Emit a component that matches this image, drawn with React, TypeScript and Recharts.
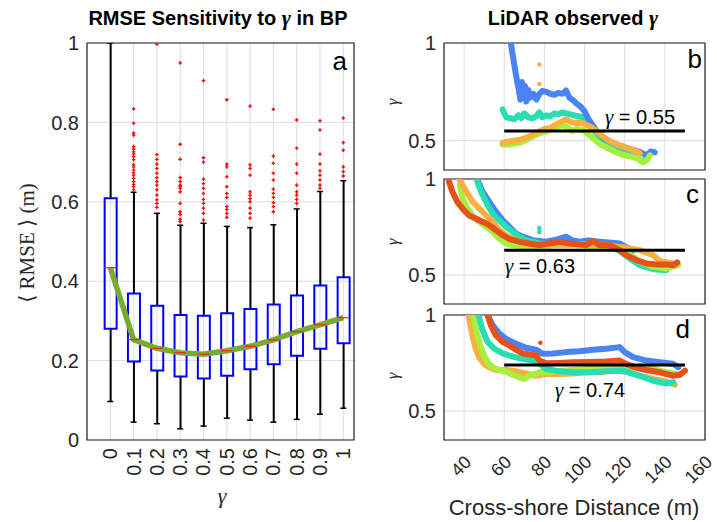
import React from 'react'
import {
  ComposedChart,
  Bar,
  Line,
  Scatter,
  XAxis,
  YAxis,
  CartesianGrid,
  ReferenceArea,
} from 'recharts'

const FONT = '"Liberation Sans", Arial, Helvetica, sans-serif'
const SERIF = '"Liberation Serif", "DejaVu Serif", "Times New Roman", serif'
const INK = '#262626'
const GRID = '#dedede'

// ---- panel a: RMSE boxplots per gamma ----
const gammas = [0, 0.1, 0.2, 0.3, 0.4, 0.5, 0.6, 0.7, 0.8, 0.9, 1]
const whiskerLow = [0.097, 0.045, 0.041, 0.028, 0.035, 0.055, 0.05, 0.045, 0.052, 0.065, 0.08]
const q1 = [0.28, 0.198, 0.175, 0.16, 0.155, 0.162, 0.178, 0.191, 0.212, 0.23, 0.244]
const medians = [0.434, 0.253, 0.231, 0.22, 0.216, 0.225, 0.236, 0.252, 0.273, 0.29, 0.308]
const q3 = [0.609, 0.369, 0.338, 0.315, 0.313, 0.319, 0.33, 0.341, 0.364, 0.389, 0.41]
const whiskerHigh = [1.0, 0.624, 0.571, 0.541, 0.546, 0.538, 0.535, 0.542, 0.582, 0.626, 0.653]
const outliers = [
  [],
  [0.834, 0.798, 0.773, 0.768, 0.739, 0.733, 0.726, 0.72, 0.714, 0.706, 0.693, 0.688, 0.68, 0.673, 0.667, 0.659, 0.651, 0.644, 0.638, 0.63],
  [0.997, 0.719, 0.707, 0.695, 0.684, 0.672, 0.661, 0.651, 0.642, 0.63, 0.617, 0.605, 0.596, 0.586],
  [0.95, 0.745, 0.707, 0.661, 0.651, 0.642, 0.638, 0.634, 0.625, 0.596, 0.575, 0.568, 0.556, 0.55],
  [0.905, 0.711, 0.7, 0.657, 0.646, 0.634, 0.621, 0.606, 0.596, 0.584, 0.571, 0.554],
  [0.857, 0.695, 0.688, 0.663, 0.638, 0.621, 0.611, 0.588, 0.581, 0.571, 0.561],
  [0.841, 0.693, 0.684, 0.667, 0.625, 0.617, 0.608, 0.6, 0.584, 0.571, 0.559],
  [0.833, 0.715, 0.697, 0.672, 0.655, 0.632, 0.621, 0.611, 0.598, 0.588, 0.575],
  [0.806, 0.735, 0.695, 0.672, 0.642, 0.625, 0.617, 0.606, 0.596],
  [0.804, 0.781, 0.72, 0.695, 0.678, 0.667, 0.655, 0.642, 0.634],
  [0.811, 0.749, 0.73, 0.688, 0.676, 0.665],
]
const rmseTicks = [0, 0.2, 0.4, 0.6, 0.8, 1]

// ---- panels b-d: LiDAR gamma vs cross-shore distance ----
const distTicks = [40, 60, 80, 100, 120, 140, 160]
const gammaTicks = [0.5, 1]
const fitStart = 60
const fitEnd = 150
const fitGamma = [0.55, 0.63, 0.74]

const BLUE = '#4a84f4'
const TEAL = '#26deb2'
const GREEN = '#a4f03c'
const ORANGE = '#fab03e'
const RED = '#e6501a'

const bBlue = [[63.3, 1.0], [64.2, 0.94], [65, 0.89], [65.8, 0.84], [66.5, 0.8], [67.3, 0.76], [68, 0.71], [68.8, 0.8], [69.5, 0.72], [70.3, 0.78], [71, 0.7], [72, 0.76], [73, 0.72], [74.5, 0.74], [76, 0.71], [77.5, 0.74], [79, 0.755], [81, 0.75], [83, 0.74], [85, 0.735], [87, 0.745], [89, 0.74], [90.8, 0.757], [92.5, 0.72], [94, 0.71], [96, 0.69], [98, 0.675], [100, 0.65], [102, 0.61], [104, 0.58], [106, 0.55], [108, 0.53], [110, 0.51], [113, 0.495], [116, 0.48], [119, 0.47], [122, 0.46], [125, 0.45], [128, 0.44], [131, 0.425], [133, 0.445], [135, 0.44]]
const bTeal = [[59.2, 0.66], [60, 0.64], [61, 0.62], [63, 0.615], [65, 0.61], [67, 0.63], [68.5, 0.615], [70, 0.64], [72, 0.62], [74, 0.615], [76, 0.625], [77.5, 0.645], [79, 0.62], [81, 0.63], [83, 0.625], [85, 0.64], [87, 0.635], [89, 0.645], [91, 0.64], [93, 0.635], [95, 0.63], [97, 0.625], [99, 0.62], [101, 0.6], [103, 0.575], [105, 0.55], [107, 0.525], [110, 0.5], [113, 0.475], [116, 0.455], [119, 0.44], [122, 0.43], [125, 0.42], [128, 0.4], [130, 0.395], [132, 0.43]]
const bGreen = [[59.2, 0.48], [62, 0.48], [65, 0.485], [68, 0.49], [71, 0.505], [74, 0.52], [77, 0.535], [80, 0.545], [83, 0.555], [86, 0.565], [88.5, 0.58], [91, 0.57], [94, 0.55], [96, 0.56], [99, 0.555], [101, 0.54], [103, 0.525], [105, 0.505], [108, 0.48], [111, 0.465], [114, 0.45], [117, 0.435], [120, 0.425], [123, 0.42], [126, 0.41], [129, 0.39], [131, 0.4], [132.5, 0.425]]
const bOrange = [[59.2, 0.49], [62, 0.495], [65, 0.5], [68, 0.505], [71, 0.515], [74, 0.53], [77, 0.545], [80, 0.56], [83, 0.565], [86, 0.585], [89, 0.6], [91, 0.61], [93, 0.595], [96, 0.59], [99, 0.59], [101, 0.58], [104, 0.565], [107, 0.54], [110, 0.515], [113, 0.495], [116, 0.48], [119, 0.47], [122, 0.46], [125, 0.45], [127.5, 0.435]]
const bStrays = [[77.5, 0.89], [77.5, 0.79]]

const cBlue = [[46.7, 0.995], [49.2, 0.934], [52.5, 0.882], [55.8, 0.83], [59.2, 0.786], [62.5, 0.752], [65.8, 0.717], [69.2, 0.7], [74.2, 0.682], [80.8, 0.674], [86, 0.685], [90.8, 0.7], [94, 0.68], [97.5, 0.674], [102, 0.68], [107.5, 0.674], [112, 0.67], [117.5, 0.665], [121, 0.645], [124.2, 0.63]]
const cTeal = [[46.2, 1.0], [47.5, 0.96], [49.2, 0.917], [51.7, 0.865], [54.2, 0.82], [57.5, 0.786], [60.8, 0.752], [64.2, 0.726], [67.5, 0.7], [70.8, 0.682], [74.2, 0.674], [77.5, 0.665], [85, 0.66], [95, 0.66], [105, 0.655], [112, 0.65], [117.5, 0.625], [122.5, 0.587], [127.5, 0.552], [134.2, 0.531], [140.8, 0.526]]
const cGreen = [[37.8, 0.969], [39.2, 0.9], [41.7, 0.847], [44.2, 0.81], [47.5, 0.778], [50.8, 0.752], [54.2, 0.726], [57.5, 0.69], [60.8, 0.665], [65.8, 0.653], [70.8, 0.648], [77.5, 0.648], [85, 0.655], [95, 0.655], [105, 0.65], [115, 0.645], [120.8, 0.62], [127.5, 0.57], [134.2, 0.543], [140.8, 0.535], [146.7, 0.552]]
const cOrange = [[37.5, 1.0], [39.2, 0.969], [41.7, 0.925], [44.2, 0.882], [47.5, 0.847], [50.8, 0.812], [54.2, 0.778], [57.5, 0.734], [60.8, 0.708], [65.8, 0.682], [70.8, 0.665], [77.5, 0.656], [88, 0.662], [100, 0.66], [110, 0.655], [120.8, 0.642], [127.5, 0.63], [134.2, 0.604], [137.5, 0.573], [144.2, 0.561]]
const cRed = [[32.5, 0.986], [34.2, 0.934], [36.7, 0.88], [39.2, 0.847], [42.5, 0.81], [45.8, 0.795], [49.2, 0.778], [52.5, 0.76], [55.8, 0.734], [59.2, 0.708], [62.5, 0.688], [67.5, 0.674], [72.5, 0.665], [77.5, 0.656], [82.5, 0.665], [87.5, 0.674], [92.5, 0.665], [97.5, 0.66], [100.8, 0.656], [104.2, 0.677], [107.5, 0.656], [112.5, 0.656], [117.5, 0.63], [120.8, 0.604], [125.8, 0.578], [130.8, 0.561], [135.8, 0.556], [140.8, 0.556], [144.2, 0.552], [146.2, 0.566]]
const cStrays = [[77.5, 0.745], [77.5, 0.725]]

const dBlue = [[51.7, 1.0], [54.2, 0.947], [57.5, 0.904], [60.8, 0.877], [65.8, 0.851], [70.8, 0.83], [75.8, 0.82], [79.2, 0.798], [84.2, 0.8], [90.8, 0.807], [97.5, 0.812], [104.2, 0.819], [110.8, 0.825], [117.5, 0.833], [120, 0.807], [124.2, 0.781], [130.8, 0.763], [137.5, 0.754], [144.2, 0.746], [146.7, 0.728]]
const dTeal = [[47.2, 1.0], [49.2, 0.921], [51.7, 0.86], [55, 0.825], [59.2, 0.8], [64.2, 0.784], [69.2, 0.772], [74.2, 0.763], [77.5, 0.749], [80.8, 0.719], [87.5, 0.707], [94.2, 0.702], [102.5, 0.702], [110.8, 0.707], [119.2, 0.711], [127.5, 0.684], [134.2, 0.658], [140.8, 0.644], [144.2, 0.65]]
const dGreen = [[44.5, 1.0], [45.8, 0.93], [47.5, 0.86], [49.5, 0.8], [51.7, 0.754], [54.2, 0.728], [57.5, 0.714], [60.8, 0.707], [64.2, 0.689], [67.5, 0.675], [70, 0.667], [72.5, 0.684], [77.5, 0.702], [85.8, 0.707], [94.2, 0.714], [102.5, 0.72], [110.8, 0.72], [119.2, 0.725], [127.5, 0.732], [134.2, 0.72], [140.8, 0.702], [145.8, 0.693]]
const dOrange = [[42.2, 1.0], [43.3, 0.939], [44.5, 0.877], [45.8, 0.825], [47.5, 0.78], [50, 0.746], [52.5, 0.728], [55.8, 0.714], [60.8, 0.714], [65.8, 0.707], [70.8, 0.696], [75.8, 0.684], [80.8, 0.693], [87.5, 0.693], [94.2, 0.696], [100.8, 0.702], [107.5, 0.702], [114.2, 0.711], [120.8, 0.705], [127.5, 0.684], [134.2, 0.667], [140.8, 0.654], [145, 0.637]]
const dRed = [[51.7, 1.0], [53.3, 0.947], [55.8, 0.895], [59.2, 0.86], [62.5, 0.842], [65.8, 0.82], [69.2, 0.8], [72.5, 0.795], [75.8, 0.79], [77.5, 0.763], [80.8, 0.749], [87.5, 0.751], [94.2, 0.754], [102.5, 0.756], [110.8, 0.758], [117.5, 0.763], [120.8, 0.746], [125.8, 0.725], [130.8, 0.714], [137.5, 0.702], [144.2, 0.684], [147.5, 0.689], [150, 0.71]]
const dStrays = [[78, 0.856]]

const boxData = gammas.map((g, i) => ({
  g,
  lo: [whiskerLow[i], q1[i]],
  box: [q1[i], q3[i]],
  hi: [q3[i], whiskerHigh[i]],
  median: medians[i],
}))
const capData = gammas.flatMap((g, i) => [
  { g, y: whiskerLow[i] },
  { g, y: whiskerHigh[i] },
])
const medianData = gammas.map((g, i) => ({ g, y: medians[i] }))
const outlierData = gammas.flatMap((g, i) => outliers[i].map((y) => ({ g, y })))

const toPts = (arr: number[][]) => arr.map(([x, y]) => ({ x, y }))

const CapShape = (props: any) => (
  <line x1={props.cx - 3} x2={props.cx + 3} y1={props.cy} y2={props.cy} stroke="#000" strokeWidth={1.5} />
)
const MedianShape = (props: any) => (
  <line x1={props.cx - 6} x2={props.cx + 6} y1={props.cy} y2={props.cy} stroke="#ff2020" strokeWidth={1.2} />
)
const PlusShape = (props: any) => (
  <path
    d={`M${props.cx - 1.8},${props.cy}h3.6M${props.cx},${props.cy - 1.8}v3.6`}
    stroke="#ff0000"
    strokeWidth={1.3}
  />
)

const GammaTick = (props: any) => {
  const { x, y, payload } = props
  return (
    <text
      x={x}
      y={y}
      transform={`rotate(-90 ${x} ${y})`}
      textAnchor="end"
      dominantBaseline="central"
      fontSize={20}
      fontFamily={FONT}
      fill={INK}
    >
      {payload.value}
    </text>
  )
}

const DistTick = (props: any) => {
  const { x, y, payload } = props
  const ax = x + 4
  const ay = y + 11
  return (
    <text
      x={ax}
      y={ay}
      transform={`rotate(-45 ${ax} ${ay})`}
      textAnchor="end"
      dominantBaseline="central"
      fontSize={18}
      fontFamily={FONT}
      fill={INK}
    >
      {payload.value}
    </text>
  )
}

const yTickStyle = { fontSize: 20, fill: INK, fontFamily: FONT }

function RmsePanel() {
  const xDomain = [-0.1, 1.046]
  return (
    <div style={{ position: 'absolute', left: 0, top: 0, width: 360, height: 522 }}>
      <ComposedChart width={360} height={522} data={boxData} margin={{ top: 43, right: 6, bottom: 42, left: 47 }}>
        <CartesianGrid stroke={GRID} />
        <XAxis
          dataKey="g"
          type="number"
          domain={xDomain}
          ticks={gammas}
          interval={0}
          allowDataOverflow
          height={40}
          axisLine={false}
          tickLine={false}
          tick={<GammaTick />}
        />
        <XAxis xAxisId="lo" dataKey="g" type="number" domain={xDomain} allowDataOverflow hide />
        <XAxis xAxisId="hi" dataKey="g" type="number" domain={xDomain} allowDataOverflow hide />
        <XAxis xAxisId="box" dataKey="g" type="number" domain={xDomain} allowDataOverflow hide />
        <YAxis
          dataKey="y"
          type="number"
          domain={[0, 1]}
          ticks={rmseTicks}
          interval={0}
          allowDataOverflow
          width={40}
          axisLine={false}
          tickLine={false}
          tick={yTickStyle}
        />
        <Bar xAxisId="lo" dataKey="lo" barSize={2} fill="#000" isAnimationActive={false} />
        <Bar xAxisId="hi" dataKey="hi" barSize={2} fill="#000" isAnimationActive={false} />
        <Scatter data={capData} shape={CapShape} isAnimationActive={false} />
        <Bar xAxisId="box" dataKey="box" barSize={12} fill="none" stroke="#0000ff" strokeWidth={2} isAnimationActive={false} />
        <Scatter data={medianData} shape={MedianShape} isAnimationActive={false} />
        <Line dataKey="median" stroke="#77ac30" strokeWidth={5.5} dot={false} isAnimationActive={false} />
        <Scatter data={outlierData} shape={PlusShape} isAnimationActive={false} />
        <ReferenceArea x1={-0.1} x2={1.046} y1={0} y2={1} fill="none" stroke={INK} strokeWidth={1.2} />
      </ComposedChart>
    </div>
  )
}

interface Series {
  color: string
  pts: number[][]
}

interface LidarProps {
  top: number
  height: number
  mTop: number
  mBottom: number
  series: Series[]
  strays: number[][]
  strayColor: string
  fit: number
  showX?: boolean
}

function LidarPanel({ top, height, mTop, mBottom, series, strays, strayColor, fit, showX }: LidarProps) {
  const fitLine = [
    { x: fitStart, y: fit },
    { x: fitEnd, y: fit },
  ]
  const StrayDot = (p: any) => <circle cx={p.cx} cy={p.cy} r={2.3} fill={strayColor} />
  return (
    <div style={{ position: 'absolute', left: 380, top, width: 337, height }}>
      <ComposedChart width={337} height={height} margin={{ top: mTop, right: 12, bottom: mBottom, left: 24 }}>
        <CartesianGrid stroke={GRID} />
        <XAxis
          dataKey="x"
          type="number"
          domain={[30, 160]}
          ticks={distTicks}
          interval={0}
          allowDataOverflow
          hide={!showX}
          height={45}
          axisLine={false}
          tickLine={false}
          tick={<DistTick />}
        />
        <YAxis
          dataKey="y"
          type="number"
          domain={[0.35, 1]}
          ticks={gammaTicks}
          interval={0}
          allowDataOverflow
          width={40}
          axisLine={false}
          tickLine={false}
          tick={yTickStyle}
        />
        {series.map((s, i) => (
          <Line
            key={i}
            data={toPts(s.pts)}
            dataKey="y"
            stroke={s.color}
            strokeWidth={6}
            strokeLinejoin="round"
            strokeLinecap="round"
            dot={false}
            isAnimationActive={false}
          />
        ))}
        <Scatter data={toPts(strays)} shape={StrayDot} isAnimationActive={false} />
        <Line data={fitLine} dataKey="y" stroke="#000" strokeWidth={3} dot={false} isAnimationActive={false} />
        <ReferenceArea x1={30} x2={160} y1={0.35} y2={1} fill="none" stroke={INK} strokeWidth={1.2} />
      </ComposedChart>
    </div>
  )
}

function Overlay() {
  const gam = (size: number, bold = false) => (
    <tspan fontFamily={SERIF} fontStyle="italic" fontWeight={bold ? 'bold' : 'normal'} fontSize={size}>
      γ
    </tspan>
  )
  return (
    <svg width={717} height={522} style={{ position: 'absolute', left: 0, top: 0, pointerEvents: 'none' }}>
      <g fontFamily={FONT} fill="#000">
        <text x={218} y={25} textAnchor="middle" fontWeight="bold" fontSize={20}>
          RMSE Sensitivity to {gam(22, true)} in BP
        </text>
        <text x={573} y={25} textAnchor="middle" fontWeight="bold" fontSize={20}>
          LiDAR observed {gam(22, true)}
        </text>
        <text x={347} y={70} textAnchor="end" fontSize={26}>a</text>
        <text x={702} y={68} textAnchor="end" fontSize={26}>b</text>
        <text x={699} y={203} textAnchor="end" fontSize={26}>c</text>
        <text x={690} y={338} textAnchor="end" fontSize={26}>d</text>
        <text x={605} y={124} fontSize={20}>
          {gam(21)} = 0.55
        </text>
        <text x={505} y={273} fontSize={20}>
          {gam(21)} = 0.63
        </text>
        <text x={555} y={397} fontSize={20}>
          {gam(21)} = 0.74
        </text>
      </g>
      <g fill={INK}>
        <text
          transform="translate(27 243) rotate(-90)"
          textAnchor="middle"
          dominantBaseline="central"
          fontFamily={SERIF}
          fontSize={21}
        >
          ⟨ RMSE ⟩ (m)
        </text>
        <text x={222} y={503} textAnchor="middle" fontFamily={SERIF} fontStyle="italic" fontSize={22}>
          γ
        </text>
        <text transform="translate(392 102) rotate(-90)" textAnchor="middle" dominantBaseline="central" fontFamily={SERIF} fontStyle="italic" fontSize={17}>
          γ
        </text>
        <text transform="translate(392 242) rotate(-90)" textAnchor="middle" dominantBaseline="central" fontFamily={SERIF} fontStyle="italic" fontSize={17}>
          γ
        </text>
        <text transform="translate(392 376) rotate(-90)" textAnchor="middle" dominantBaseline="central" fontFamily={SERIF} fontStyle="italic" fontSize={17}>
          γ
        </text>
        <text x={574} y={515} textAnchor="middle" fontFamily={FONT} fontSize={22}>
          Cross-shore Distance (m)
        </text>
      </g>
    </svg>
  )
}

export default function App() {
  return (
    <div style={{ position: 'absolute', left: 0, top: 0, width: 717, height: 522, background: '#fff' }}>
      <RmsePanel />
      <LidarPanel
        top={0}
        height={180}
        mTop={43}
        mBottom={10}
        series={[
          { color: TEAL, pts: bTeal },
          { color: BLUE, pts: bBlue },
          { color: GREEN, pts: bGreen },
          { color: ORANGE, pts: bOrange },
        ]}
        strays={bStrays}
        strayColor={ORANGE}
        fit={fitGamma[0]}
      />
      <LidarPanel
        top={160}
        height={150}
        mTop={19}
        mBottom={6}
        series={[
          { color: BLUE, pts: cBlue },
          { color: TEAL, pts: cTeal },
          { color: GREEN, pts: cGreen },
          { color: ORANGE, pts: cOrange },
          { color: RED, pts: cRed },
        ]}
        strays={cStrays}
        strayColor={TEAL}
        fit={fitGamma[1]}
      />
      <LidarPanel
        top={295}
        height={227}
        mTop={20}
        mBottom={37}
        series={[
          { color: ORANGE, pts: dOrange },
          { color: GREEN, pts: dGreen },
          { color: TEAL, pts: dTeal },
          { color: BLUE, pts: dBlue },
          { color: RED, pts: dRed },
        ]}
        strays={dStrays}
        strayColor={RED}
        fit={fitGamma[2]}
        showX
      />
      <Overlay />
    </div>
  )
}
